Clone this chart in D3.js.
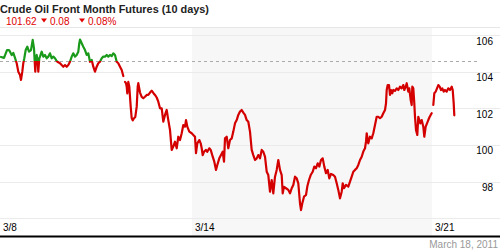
<!DOCTYPE html>
<html><head><meta charset="utf-8">
<script src="https://cdn.jsdelivr.net/npm/d3@7"></script>
<style>body{margin:0;background:#fff}svg{display:block}</style>
</head><body><svg id="c" width="500" height="250"></svg>
<script>
// Price data: [hours since start of 3/8, price]
const segmentA = [[0.5,104.80],[2,104.75],[3.5,105.18],[4.5,105.18],[5,105.09],[5.85,104.91],[6.65,105.02],[7.5,104.75],[8,104.58],[8.35,104.46],[9.15,104.00],[10,103.82],[10.5,103.55],[11.15,104.00],[11.65,104.46],[12.15,104.73],[12.85,105.18],[13.65,105.36],[14.5,105.09],[15.5,105.18],[16.35,105.73],[17,105.27],[17.35,104.54],[17.65,104.00],[18,104.73],[18.35,104.91],[18.85,104.54],[19.15,104.00],[19.65,104.73],[20,104.82],[20.85,105.09],[21.65,104.82],[22.5,104.91],[23.35,104.73],[24.15,104.82],[25,105.00],[25.85,104.73],[26.65,104.82],[27.5,104.73],[28.35,104.58],[29.15,104.51],[30,104.46],[30.85,104.36],[31.65,104.27],[32.5,104.36],[33.35,104.27],[34.15,104.36],[35,104.54],[35.85,104.82],[36.65,105.00],[37.5,104.82],[38.35,104.91],[39.15,105.09],[39.65,105.55],[40,105.75],[40.85,105.55],[41.65,105.36],[42.5,105.18],[43.35,104.91],[44.15,105.00],[45,104.54],[45.85,104.64],[46.65,104.27],[47.5,104.00],[48.35,104.27],[49.15,104.46],[50,104.54],[50.85,104.73],[51.65,104.82],[52.5,104.82],[53.35,104.91],[54.15,104.82],[55,104.91],[55.85,104.85],[56.65,105.00],[57.5,104.91],[58.35,104.54],[59.15,104.46],[60,104.27],[60.85,104.09],[61.65,103.76]];
const segmentB = [[62.5,103.44],[63,103.37],[63.35,103.18],[63.65,102.82],[64.15,103.44],[64.65,103.18],[65.35,102.09],[65.85,101.47],[66.35,101.34],[67,101.46],[67.65,101.53],[68.35,102.09],[68.85,103.18],[69.15,103.37],[70,102.86],[70.85,102.62],[71.65,102.55],[72.5,102.63],[73.35,102.73],[74.15,102.73],[75,102.86],[75.85,102.96],[76.65,102.84],[77.5,102.73],[78.35,102.59],[79.15,102.36],[80,102.00],[80.85,102.00],[81.65,101.27],[82.5,101.64],[83.35,101.91],[84.15,101.36],[85,100.82],[85.85,99.73],[86.65,99.91],[87.5,100.18],[88.35,99.82],[89.15,100.45],[90,100.27],[90.85,100.64],[91.65,101.09],[92.5,101.00],[93,101.36],[93.65,101.00],[94.65,100.73],[95.85,100.64],[96.65,100.55],[97.5,100.45],[98,99.55],[98.65,100.09],[99.65,100.27],[100.35,100.09],[100.85,99.82],[101.35,99.45],[102,99.63],[103,99.73],[103.65,99.63],[104.65,99.82],[105.35,99.73],[106.35,99.36],[107.15,99.09],[108,98.64],[108.65,98.91],[109.65,99.27],[110.5,99.45],[111.35,99.63],[112,99.09],[112.5,100.36],[113.35,100.45],[114.15,99.82],[115,100.27],[115.85,100.36],[116.65,100.73],[117.5,101.18],[118.35,101.36],[119.15,101.64],[120,101.82],[120.85,101.91],[121.75,101.75],[122.5,101.64],[123.35,101.36],[124.15,101.27],[125,100.73],[125.85,99.73],[126.65,99.45],[127.5,99.18],[128.35,99.27],[129.15,99.45],[130,99.27],[130.85,99.73],[131.65,99.63],[132.5,99.36],[133.35,98.54],[134.15,98.36],[135,97.45],[135.85,98.09],[136.65,97.36],[137.5,98.27],[138.35,98.64],[139.15,99.18],[140,98.64],[140.85,98.36],[141.35,97.36],[142,97.72],[143,97.64],[144.15,97.55],[145,97.36],[145.85,97.64],[146.65,97.82],[147.5,98.27],[148.35,98.18],[149.15,97.91],[150,96.82],[150.5,96.45],[151.15,96.82],[152,97.18],[153,97.27],[153.65,97.73],[154.5,98.09],[155.35,98.36],[156.35,98.54],[157.15,98.82],[158,98.73],[158.85,99.00],[159.65,98.82],[160.5,99.18],[161.35,99.27],[162.15,98.82],[163,98.46],[163.85,98.64],[164.65,98.18],[165.5,98.42],[166.65,98.36],[167.5,98.27],[168.35,97.91],[169.15,97.55],[170,97.09],[170.85,97.45],[171.35,97.91],[172,97.64],[173,97.82],[174.15,97.73],[175,98.00],[175.85,98.27],[176.65,98.54],[177.5,98.64],[178.35,98.73],[179.15,98.91],[180,99.18],[180.85,99.36],[181.65,99.64],[182.5,99.82],[183,100.18],[183.35,100.64],[184.15,100.09],[185,100.45],[185.85,100.36],[186.65,100.64],[187.5,101.09],[188.35,101.54],[189.15,101.54],[190,101.46],[190.85,101.54],[191.65,101.73],[192.5,101.91],[193,102.27],[193.35,103.00],[193.85,103.27],[194.5,103.27],[195,102.73],[195.5,103.00],[196.15,102.82],[196.65,103.00],[197.5,102.95],[198.35,103.09],[199.15,103.00],[200,103.18],[200.85,103.09],[201.65,103.27],[202.15,103.00],[202.85,103.18],[203.35,103.37],[204.15,102.91],[204.65,103.09],[205.35,102.45],[205.85,102.18],[206.15,103.18],[206.65,103.09],[207.15,102.27],[207.5,101.54],[208,100.82],[208.65,100.55],[209.15,101.54],[209.65,101.36],[210.15,101.18],[210.85,101.36],[211.65,101.00],[212.15,100.45],[212.85,101.00],[213.5,101.18],[214.15,101.36],[214.85,101.54],[215.35,101.64],[215.85,101.73]];
const segmentC = [[216.65,102.18],[217.15,102.82],[217.85,102.91],[218.5,103.09],[219.15,103.27],[219.85,103.18],[220.5,103.00],[221.15,103.09],[221.85,102.91],[222.5,103.00],[223.35,102.91],[224.15,103.09],[225,103.00],[225.85,103.18],[226.35,103.00],[226.85,102.27],[227.15,101.62]];
const baseline = 104.58;
const yTicks = [106, 104, 102, 100, 98];
const gridValues = [106, 104, 102, 100, 98, 96];
const dayLabels = ["3/8", "3/14", "3/21"];
const dayHours = [0, 96, 216];
const shadedWeek = [96, 216];
const titleText = "Crude Oil Front Month Futures (10 days)";
const lastPrice = "101.62", change = "0.08", changePct = "0.08%";
const dateText = "March 18, 2011";

const svg = d3.select("#c");
const x = d3.scaleLinear().domain([0, 240]).range([0, 480]);
const y = d3.scaleLinear().domain([96, 106]).range([218.3, 35]);
const font = "Liberation Sans, Arial, sans-serif";

// shading
svg.append("rect").attr("x", x(shadedWeek[0])).attr("y", 28)
  .attr("width", x(shadedWeek[1]) - x(shadedWeek[0])).attr("height", 208).attr("fill", "#f7f7f7");
// top line
svg.append("line").attr("x1", 0).attr("x2", 500).attr("y1", 27.5).attr("y2", 27.5).attr("stroke", "#e6e6e6");
// grid
svg.selectAll(".g").data(gridValues).enter().append("line")
  .attr("x1", 0).attr("x2", 500).attr("y1", d => Math.round(y(d)) + 0.5).attr("y2", d => Math.round(y(d)) + 0.5)
  .attr("stroke", "#ebebeb");
// tick labels
svg.selectAll(".yl").data(yTicks).enter().append("text")
  .attr("x", 493).attr("y", d => y(d) + 9.5).attr("text-anchor", "end")
  .attr("font-family", font).attr("font-size", 10).attr("fill", "#000").text(d => d);
// baseline dashed
svg.append("line").attr("x1", 0).attr("x2", 478).attr("y1", Math.round(y(baseline)) + 0.5).attr("y2", Math.round(y(baseline)) + 0.5)
  .attr("stroke", "#aaa").attr("stroke-dasharray", "3,3");

// clips
const by = y(baseline);
const defs = svg.append("defs");
defs.append("clipPath").attr("id", "above").append("rect").attr("x", 0).attr("y", 0).attr("width", 500).attr("height", by);
defs.append("clipPath").attr("id", "below").append("rect").attr("x", 0).attr("y", by).attr("width", 500).attr("height", 250 - by);
const line = d3.line().x(d => x(d[0])).y(d => y(d[1]));
const segs = [segmentA, segmentB, segmentC];
[["above", "#1a9a1a"], ["below", "#d40000"]].forEach(([id, col]) => {
  const g = svg.append("g").attr("clip-path", `url(#${id})`);
  g.selectAll("path").data(segs).enter().append("path")
    .attr("d", line).attr("fill", "none").attr("stroke", col)
    .attr("stroke-width", 2.2).attr("stroke-linejoin", "round").attr("stroke-linecap", "round");
});

// x labels
svg.selectAll(".xl").data(dayLabels).enter().append("text")
  .attr("x", (d, i) => x(dayHours[i]) + 3).attr("y", 231)
  .attr("font-family", font).attr("font-size", 10).attr("fill", "#000").text(d => d);
// bottom black line
svg.append("rect").attr("x", 0).attr("y", 235.5).attr("width", 500).attr("height", 2).attr("fill", "#000");
svg.append("text").attr("x", 498).attr("y", 247.5).attr("text-anchor", "end")
  .attr("font-family", font).attr("font-size", 10).attr("fill", "#999").text(dateText);

// header
svg.append("text").attr("x", 0).attr("y", 12.5).attr("font-family", font).attr("font-size", 11.5)
  .attr("font-weight", "bold").attr("fill", "#222").attr("textLength", 209).attr("lengthAdjust", "spacingAndGlyphs").text(titleText);
const red = "#e00000";
svg.append("text").attr("x", 6).attr("y", 24.5).attr("font-family", font).attr("font-size", 10).attr("fill", red).text(lastPrice);
const tri = (cx) => `M${cx - 3},18.5L${cx + 3},18.5L${cx},22.5Z`;
svg.append("path").attr("d", tri(44)).attr("fill", red);
svg.append("text").attr("x", 50).attr("y", 24.5).attr("font-family", font).attr("font-size", 10).attr("fill", red).text(change);
svg.append("path").attr("d", tri(82)).attr("fill", red);
svg.append("text").attr("x", 88).attr("y", 24.5).attr("font-family", font).attr("font-size", 10).attr("fill", red).text(changePct);
</script></body></html>
